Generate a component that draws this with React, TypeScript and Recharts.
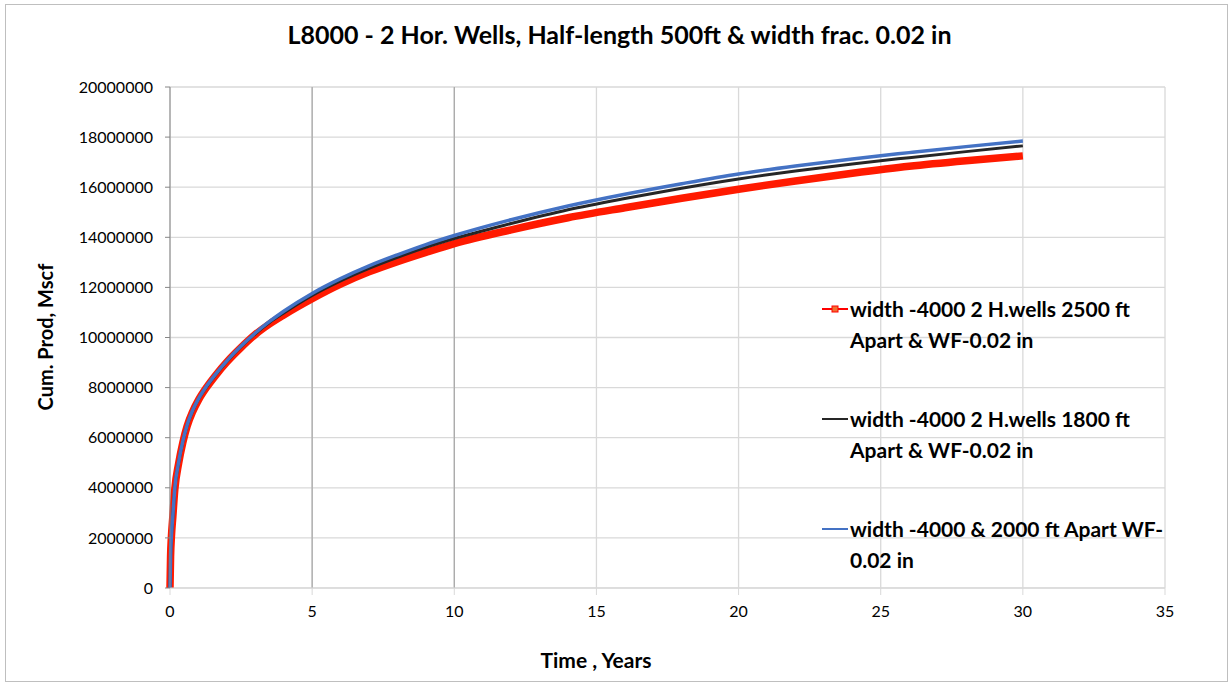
// Cumulative production of 3 horizontal-well cases over 30 years (Recharts).
import {
  LineChart,
  Line,
  XAxis,
  YAxis,
  CartesianGrid,
  Legend,
  ReferenceLine,
} from "recharts";

// Time axis, years.
const TAHUN = [
  0, 0.02, 0.05, 0.1, 0.17, 0.3, 0.45, 0.6, 0.8, 1, 1.3, 1.6, 2, 2.5, 3, 3.5, 4, 5, 6, 7, 8, 9, 10,
  12, 14, 16, 18, 20, 22, 24, 26, 28, 30,
];

// Cum. prod (Mscf) — 2 H.wells 2500 ft apart.
const SERI_2500 = [
  0, 1250000, 2050000, 2850000, 3950000, 4950000, 5800000, 6450000, 7050000, 7500000, 8030000,
  8480000, 9020000, 9600000, 10120000, 10540000, 10900000, 11550000, 12130000, 12620000, 13030000,
  13400000, 13750000, 14300000, 14780000, 15180000, 15560000, 15920000, 16250000, 16560000,
  16840000, 17060000, 17250000,
];

// Cum. prod (Mscf) — 2 H.wells 1800 ft apart.
const SERI_1800 = [
  0, 1280000, 2080000, 2880000, 3980000, 4980000, 5830000, 6480000, 7080000, 7530000, 8050000,
  8500000, 9040000, 9630000, 10150000, 10600000, 10980000, 11680000, 12260000, 12760000, 13200000,
  13600000, 13950000, 14550000, 15100000, 15550000, 15960000, 16330000, 16650000, 16930000,
  17180000, 17420000, 17650000,
];

// Cum. prod (Mscf) — 2000 ft apart.
const SERI_2000 = [
  0, 1300000, 2100000, 2900000, 4000000, 5000000, 5850000, 6500000, 7100000, 7550000, 8080000,
  8530000, 9070000, 9660000, 10180000, 10640000, 11050000, 11760000, 12350000, 12860000, 13300000,
  13710000, 14070000, 14700000, 15250000, 15720000, 16140000, 16530000, 16850000, 17130000,
  17380000, 17620000, 17840000,
];

const TICK_X = [0, 5, 10, 15, 20, 25, 30, 35];
const TICK_Y = [
  0, 2000000, 4000000, 6000000, 8000000, 10000000, 12000000, 14000000, 16000000, 18000000, 20000000,
];

const NAMA_2500 = "width -4000 2 H.wells 2500 ft\nApart & WF-0.02 in";
const NAMA_1800 = "width -4000 2 H.wells 1800 ft\nApart & WF-0.02 in";
const NAMA_2000 = "width -4000 & 2000 ft Apart WF-\n0.02 in";

const data = TAHUN.map((t, i) => ({
  t,
  s2500: SERI_2500[i],
  s1800: SERI_1800[i],
  s2000: SERI_2000[i],
}));

const FONT = "Lato, 'Open Sans', sans-serif";

// Legend drawn on the right inside the plot.
function KeteranganSeri() {
  const entri = [
    { nama: NAMA_2500, warna: "#ff0000", kotak: true },
    { nama: NAMA_1800, warna: "#262626", kotak: false },
    { nama: NAMA_2000, warna: "#4472c4", kotak: false },
  ];
  return (
    <div style={{ fontFamily: FONT, fontWeight: 700, fontSize: 21, color: "#000" }}>
      {entri.map((e) => (
        <div key={e.nama} style={{ display: "flex", alignItems: "flex-start", marginBottom: 48 }}>
          <svg width={28} height={31} style={{ flex: "none" }}>
            <line x1={0} x2={26} y1={16} y2={16} stroke={e.warna} strokeWidth={2} />
            {e.kotak && <rect x={10} y={13} width={6} height={6} fill="#f07030" stroke="#ff0000" />}
          </svg>
          <div style={{ whiteSpace: "pre-line", lineHeight: "31px" }}>{e.nama}</div>
        </div>
      ))}
    </div>
  );
}

export default function App() {
  return (
    <div style={{ position: "fixed", left: 0, top: 0, width: 1231, height: 685, background: "#fff" }}>
      <div
        style={{
          position: "absolute",
          left: 5,
          top: 4,
          width: 1221,
          height: 676,
          border: "1px solid #bfbfbf",
        }}
      />
      <div
        style={{
          position: "absolute",
          left: 0,
          width: 1231,
          top: 19,
          textAlign: "center",
          fontFamily: FONT,
          fontWeight: 700,
          fontSize: 25,
          paddingLeft: 4,
        }}
      >
        L8000 - 2 Hor. Wells, Half-length 500ft &amp; width frac. 0.02 in
      </div>
      <div
        style={{
          position: "absolute",
          left: 45,
          top: 337,
          transform: "translate(-50%, -50%) rotate(-90deg)",
          whiteSpace: "nowrap",
          fontFamily: FONT,
          fontWeight: 700,
          fontSize: 20,
        }}
      >
        Cum. Prod, Mscf
      </div>
      <div
        style={{
          position: "absolute",
          left: 596,
          top: 659,
          transform: "translate(-50%, -50%)",
          whiteSpace: "nowrap",
          fontFamily: FONT,
          fontWeight: 700,
          fontSize: 21,
        }}
      >
        Time , Years
      </div>
      <div style={{ position: "absolute", left: 0, top: 0 }}>
        <LineChart
          width={1231}
          height={685}
          data={data}
          margin={{ top: 87, right: 66, bottom: 67, left: 90 }}
          style={{ fontFamily: FONT }}
        >
          <CartesianGrid stroke="#d9d9d9" strokeWidth={1.3} verticalValues={TICK_X} />
          <XAxis
            dataKey="t"
            type="number"
            domain={[0, 35]}
            ticks={TICK_X}
            height={30}
            tickSize={7}
            tickMargin={11}
            stroke="#d9d9d9"
            tick={{ fill: "#000", fontSize: 16 }}
          />
          <YAxis
            type="number"
            domain={[0, 20000000]}
            ticks={TICK_Y}
            width={80}
            tickSize={5}
            tickMargin={12}
            stroke="#868686"
            tick={{ fill: "#000", fontSize: 16 }}
          />
          <ReferenceLine x={5} stroke="#a6a6a6" strokeWidth={1.2} />
          <ReferenceLine x={10} stroke="#a6a6a6" strokeWidth={1.2} />
          <Legend
            layout="horizontal"
            verticalAlign="middle"
            content={<KeteranganSeri />}
            wrapperStyle={{ position: "absolute", left: 822, top: 293, width: 360 }}
          />
          <Line
            type="monotone"
            dataKey="s2500"
            name={NAMA_2500}
            stroke="#ff1a00"
            strokeWidth={7.5}
            dot={false}
            isAnimationActive={false}
          />
          <Line
            type="monotone"
            dataKey="s1800"
            name={NAMA_1800}
            stroke="#262626"
            strokeWidth={3}
            dot={false}
            isAnimationActive={false}
          />
          <Line
            type="monotone"
            dataKey="s2000"
            name={NAMA_2000}
            stroke="#4472c4"
            strokeWidth={3.5}
            dot={false}
            isAnimationActive={false}
          />
        </LineChart>
      </div>
    </div>
  );
}
